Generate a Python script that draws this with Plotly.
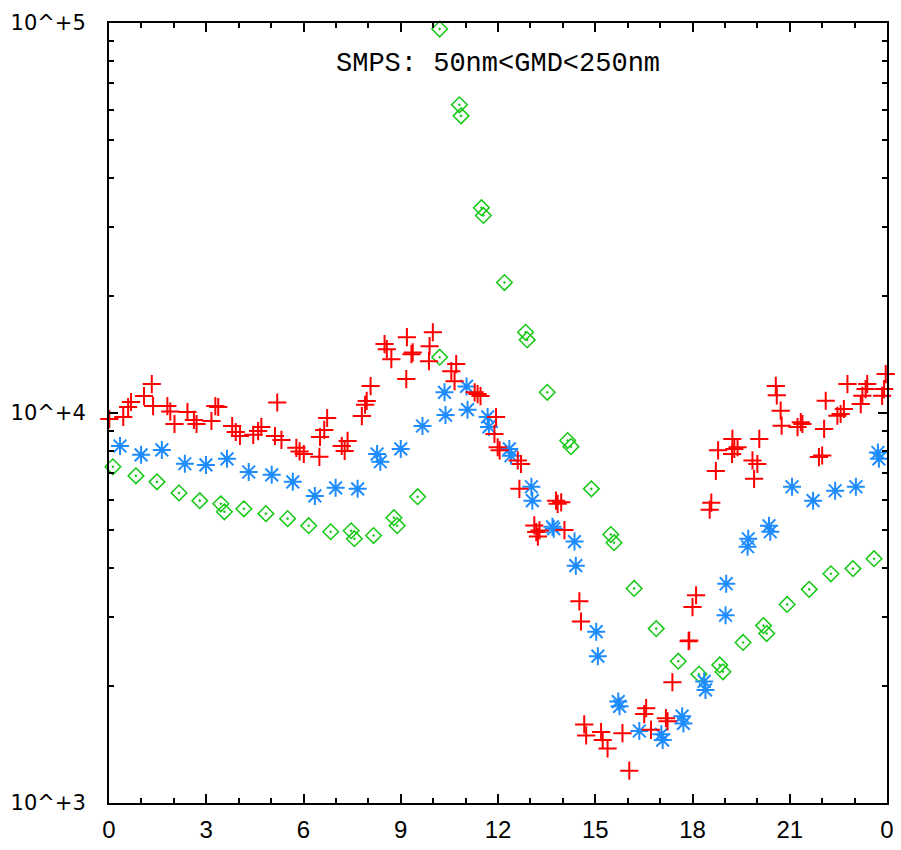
import plotly.graph_objects as go

# ---- data (hour of day, number concentration) ----
red_h = [0.01, 0.44, 0.59, 0.68, 1.08, 1.32, 1.36, 1.80, 1.89, 2.02,
         2.42, 2.62, 2.70, 3.16, 3.28, 3.37, 3.80, 3.91, 4.04, 4.45,
         4.60, 4.70, 5.12, 5.19, 5.32, 5.78, 5.88, 6.01, 6.49, 6.51,
         6.64, 6.73, 7.18, 7.27, 7.36, 7.80, 7.90, 7.95, 8.07, 8.50,
         8.57, 8.71, 9.17, 9.19, 9.33, 9.37, 9.87, 9.89, 9.99, 10.56,
         10.66, 10.71, 11.28, 11.37, 11.46, 11.89, 11.94, 11.99, 12.05, 12.61,
         12.66, 12.71, 13.12, 13.18, 13.23, 13.28, 13.79, 13.84, 13.95, 14.05,
         14.51, 14.56, 14.66, 14.72, 15.18, 15.23, 15.38, 15.84, 16.05, 16.51,
         16.57, 16.72, 17.18, 17.23, 17.38, 17.88, 17.90, 18.00, 18.11, 18.53,
         18.58, 18.72, 18.79, 19.22, 19.23, 19.29, 19.39, 19.85, 19.90, 20.00,
         20.06, 20.57, 20.60, 20.72, 20.75, 21.24, 21.34, 21.39, 21.90, 22.00,
         22.06, 22.11, 22.47, 22.57, 22.67, 22.78, 23.19, 23.24, 23.34, 23.39,
         23.85, 23.91, 23.96]
red_v = [9650, 9770, 10360, 10670, 11050, 11860, 10420, 10420, 10090, 9370,
         10060, 9600, 9370, 9540, 10420, 10360, 9260, 8940, 8730, 8790,
         8990, 9210, 8730, 10640, 8530, 8140, 7970, 7850, 7720, 8680,
         9050, 9710, 8230, 7990, 8480, 9820, 10500, 10740, 11720, 15020,
         14580, 13740, 12220, 15650, 14150, 14300, 13580, 14840, 16110, 12800,
         12070, 13350, 11300, 11180, 11050, 8840, 9760, 8170, 8020, 7560,
         6390, 7400, 5150, 4950, 4820, 5000, 5960, 5850, 5900, 5010,
         3290, 2920, 1590, 1490, 1520, 1450, 1380, 1510, 1210, 1690,
         1750, 1540, 1650, 1620, 2040, 2600, 2610, 3180, 3410, 5650,
         5890, 7100, 8020, 7850, 8580, 8090, 8170, 7560, 6780, 7400,
         8580, 11730, 11100, 10140, 9280, 9200, 9470, 9370, 7710, 7780,
         9100, 10750, 9840, 9940, 10240, 11860, 10540, 11070, 11520, 11860,
         11070, 11520, 12580]

blue_h = [0.34, 0.99, 1.63, 2.34, 2.99, 3.64, 4.31, 5.02, 5.67, 6.35,
          6.99, 7.67, 8.27, 8.37, 9.00, 9.67, 10.35, 10.38, 11.03, 11.06,
          11.68, 11.72, 12.35, 12.40, 13.03, 13.06, 13.68, 13.72, 14.36, 14.40,
          15.03, 15.08, 15.71, 15.75, 16.36, 17.04, 17.08, 17.68, 17.72, 18.36,
          18.40, 19.04, 19.02, 19.72, 19.70, 20.36, 20.40, 21.07, 21.72, 22.40,
          23.04, 23.72, 23.75]
blue_v = [8230, 7810, 8040, 7410, 7360, 7630, 7060, 6940, 6660, 6130,
          6430, 6390, 7850, 7500, 8090, 9260, 11300, 9880, 11700, 10200,
          9770, 9210, 8090, 7770, 6470, 5960, 5110, 5050, 4680, 4060,
          2750, 2380, 1820, 1770, 1530, 1500, 1450, 1670, 1600, 2050,
          1950, 3650, 3030, 4760, 4540, 5140, 4960, 6470, 5960, 6320,
          6470, 7920, 7630]

green_h = [0.12, 0.83, 1.48, 2.16, 2.80, 3.45, 3.56, 4.16, 4.84, 5.51,
           6.16, 6.84, 7.47, 7.57, 8.16, 8.79, 8.89, 9.52, 10.20, 10.20,
           10.81, 10.86, 11.49, 11.55, 12.20, 12.85, 12.90, 13.52, 14.15, 14.25,
           14.88, 15.48, 15.58, 16.20, 16.88, 17.56, 18.20, 18.84, 18.94, 19.56,
           20.19, 20.29, 20.92, 21.60, 22.27, 22.95, 23.60]
green_v = [7280, 6900, 6660, 6240, 5960, 5850, 5580, 5680, 5520, 5360,
           5140, 4960, 4990, 4760, 4850, 5390, 5140, 6100, 13900, 96500,
           61700, 57800, 33600, 32100, 21600, 16100, 15400, 11300, 8500, 8200,
           6390, 4880, 4650, 3550, 2800, 2310, 2140, 2260, 2170, 2580,
           2850, 2720, 3230, 3530, 3870, 3990, 4230]

x_tickvals = [0, 3, 6, 9, 12, 15, 18, 21, 24]
x_ticktext = ["0", "3", "6", "9", "12", "15", "18", "21", "0"]
y_tickvals = [1e3, 1e4, 1e5]
y_ticktext = ["10^+3", "10^+4", "10^+5"]
title_text = "SMPS: 50nm&lt;GMD&lt;250nm"

fig = go.Figure()
fig.add_trace(go.Scatter(
    x=green_h, y=green_v, mode="markers", cliponaxis=False,
    marker=dict(symbol="diamond-open-dot", size=12, color="#14c814",
                line=dict(width=1.5, color="#14c814"))))
fig.add_trace(go.Scatter(
    x=blue_h, y=blue_v, mode="markers", cliponaxis=False,
    marker=dict(symbol="asterisk-open", size=15, color="#1e8cff",
                line=dict(width=2, color="#1e8cff"))))
fig.add_trace(go.Scatter(
    x=red_h, y=red_v, mode="markers", cliponaxis=False,
    marker=dict(symbol="cross-thin-open", size=13, color="#ff0000",
                line=dict(width=2, color="#ff0000"))))

minor_y = [v * m for v in (1e3, 1e4) for m in range(2, 10)]

fig.update_layout(
    width=901, height=850,
    margin=dict(l=109, r=7, t=23, b=37),
    paper_bgcolor="white", plot_bgcolor="white",
    showlegend=False,
    font=dict(family="DejaVu Sans", color="black"),
    xaxis=dict(
        range=[0, 24], tickmode="array", tickvals=x_tickvals, ticktext=x_ticktext,
        ticks="inside", ticklen=9, tickwidth=2, tickcolor="black",
        showline=True, linecolor="black", linewidth=2, mirror="allticks",
        showgrid=False, zeroline=False,
        tickfont=dict(family="Liberation Sans Narrow, Liberation Sans", size=24, color="black"),
        ticklabelstandoff=4,
        minor=dict(dtick=1, tick0=0, ticks="inside", ticklen=5, tickwidth=2, tickcolor="black"),
    ),
    yaxis=dict(
        type="log", range=[3, 5], tickmode="array", tickvals=y_tickvals, ticktext=y_ticktext,
        ticks="inside", ticklen=9, tickwidth=2, tickcolor="black",
        showline=True, linecolor="black", linewidth=2, mirror="allticks",
        showgrid=False, zeroline=False,
        tickfont=dict(family="DejaVu Sans", size=21, color="black"),
        ticklabelstandoff=17,
        minor=dict(tickmode="array", tickvals=minor_y, ticks="inside", ticklen=5,
                   tickwidth=2, tickcolor="black"),
    ),
    annotations=[dict(
        text=title_text, xref="paper", yref="paper", x=0.5006, y=0.947,
        xanchor="center", yanchor="middle", showarrow=False,
        font=dict(family="Liberation Mono", size=27, color="black"))],
)

fig.write_html("out.html")
